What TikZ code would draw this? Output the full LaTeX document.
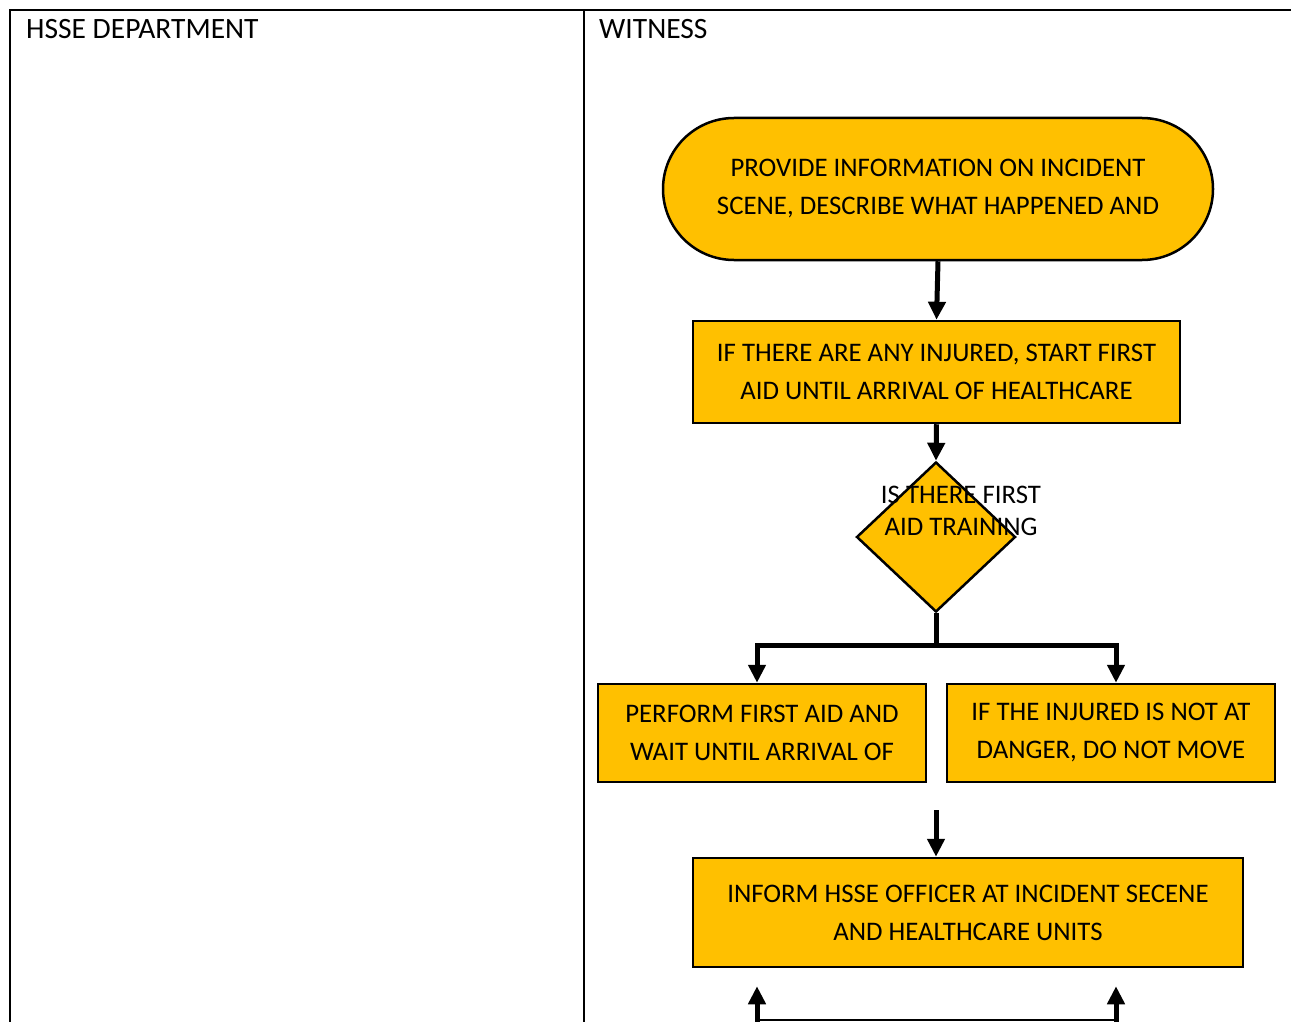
\documentclass[tikz,border=0pt]{standalone}
\usepackage{fontspec}
\setmainfont{Carlito}
\usepackage{tikz}
\usetikzlibrary{arrows.meta,positioning,shapes.geometric,calc}
\definecolor{amber}{HTML}{FFC000}
\newcommand{\flowfont}{\fontsize{26.8}{38}\selectfont}
\newcommand{\headfont}{\fontsize{29.5}{38}\selectfont}
\tikzset{
  termcard/.style={draw=black,fill=amber,line width=2.5pt,rounded corners=71pt,
                   minimum width=550pt,minimum height=142pt,
                   align=center,inner sep=0pt,font=\flowfont},
  stepcard/.style={draw=black,fill=amber,line width=2.5pt,
                   align=center,inner sep=0pt,font=\flowfont},
  decision/.style={diamond,draw=black,fill=amber,line width=2.5pt,
                   minimum width=159pt,minimum height=150pt,inner sep=0pt},
  headtext/.style={anchor=base west,inner sep=0pt,font=\headfont},
  flowarr/.style={-{Triangle[length=18pt,width=17pt]},line width=5pt,draw=black},
  flowline/.style={line width=5pt,draw=black},
  tableline/.style={line width=2pt,draw=black}
}
\begin{document}
\begin{tikzpicture}[x=1pt,y=-1pt]
    \path[use as bounding box] (0,0) rectangle (1291,1022);
    \draw[tableline] (10,1022) -- (10,10) -- (1291,10);
    \draw[tableline] (584,10) -- (584,1022);
    \node[headtext] (dept) at (26,39) {HSSE DEPARTMENT};
    \node[headtext] (witness) at (599,39) {WITNESS};
    \node[termcard] (info) at (938,189)
      {PROVIDE INFORMATION ON INCIDENT\\SCENE, DESCRIBE WHAT HAPPENED AND};
    \node[stepcard,minimum width=487pt,minimum height=102pt] (firstaid) at (936.5,372)
      {IF THERE ARE ANY INJURED, START FIRST\\AID UNTIL ARRIVAL OF HEALTHCARE};
    \node[decision] (training) at (936,537) {};
    \node[align=center,inner sep=0pt,font=\fontsize{26.8}{32}\selectfont]
      (trainingtext) at (961,511) {IS THERE FIRST\\AID TRAINING};
    \node[stepcard,minimum width=328pt,minimum height=98pt] (perform) at (762,733)
      {PERFORM FIRST AID AND\\WAIT UNTIL ARRIVAL OF};
    \node[stepcard,minimum width=328pt,minimum height=98pt] (nomove) at (1111,733)
      {IF THE INJURED IS NOT AT\\DANGER, DO NOT MOVE};
    \node[stepcard,minimum width=550pt,minimum height=109pt] (inform) at (968,912.5)
      {INFORM HSSE OFFICER AT INCIDENT SECENE\\AND HEALTHCARE UNITS};
    \coordinate (split) at (936,645);
    \coordinate (gap) at (936,810);
    \coordinate (loopL) at (757,1022);
    \coordinate (loopR) at (1116,1022);
    \draw[flowarr] (info.south) -- (firstaid.north);
    \draw[flowarr] (firstaid.south) -- (training.north);
    \draw[flowline] (training.south) -- (split);
    \draw[flowarr] (split) -| ([xshift=-5pt]perform.north);
    \draw[flowarr] (split) -| ([xshift=5pt]nomove.north);
    \draw[flowarr] (gap) -- (gap |- inform.north);
    \draw[flowarr] (loopL) -- ([yshift=-18pt]loopL |- inform.south);
    \draw[flowarr] (loopR) -- ([yshift=-18pt]loopR |- inform.south);
    \draw[tableline] ([yshift=2pt]loopL) -- ([yshift=2pt]loopR);
  \end{tikzpicture}
\end{document}
